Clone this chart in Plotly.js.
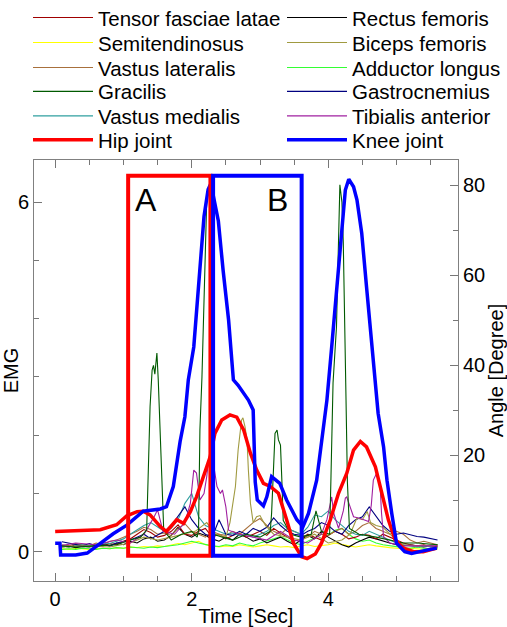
<!DOCTYPE html>
<html><head><meta charset="utf-8">
<script src="https://cdn.plot.ly/plotly-3.0.1.min.js"></script>
<style>html,body{margin:0;padding:0;background:#fff}#chart{width:507px;height:627px}</style>
</head><body><div id="chart"></div>
<script>
// ---------- data ----------
const tGrid = [0.1,0.2,0.3,0.4,0.5,0.6,0.7,0.8,0.9,1.0,
  1.1,1.2,1.3,1.4,1.5,1.6,1.7,1.8,1.9,2.0,
  2.1,2.2,2.3,2.4,2.5,2.6,2.7,2.8,2.9,3.0,
  3.1,3.2,3.3,3.4,3.5,3.6,3.7,3.8,3.9,4.0,
  4.1,4.2,4.3,4.4,4.5,4.6,4.7,4.8,4.9,5.0,
  5.1,5.2,5.3,5.4,5.5,5.6];

const tensorEMG = [0.10,0.08,0.12,0.10,0.09,0.12,0.10,0.14,0.12,0.18,
  0.22,0.30,0.38,0.33,0.25,0.28,0.35,0.46,0.30,0.28,
  0.35,0.40,0.25,0.30,0.22,0.28,0.32,0.25,0.30,0.35,
  0.28,0.40,0.32,0.25,0.18,0.22,0.30,0.25,0.20,0.28,
  0.35,0.30,0.22,0.25,0.30,0.28,0.22,0.30,0.25,0.20,
  0.15,0.12,0.10,0.12,0.08,0.10];
const rectusEMG = [0.08,0.10,0.07,0.09,0.08,0.10,0.12,0.10,0.15,0.12,
  0.18,0.15,0.22,0.25,0.18,0.20,0.28,0.42,0.30,0.25,
  0.32,0.28,0.22,0.18,0.25,0.20,0.30,0.25,0.18,0.22,
  0.15,0.20,0.25,0.18,0.12,0.20,0.28,0.22,0.35,0.25,
  0.18,0.12,0.08,0.15,0.20,0.25,0.22,0.18,0.15,0.12,
  0.10,0.12,0.10,0.08,0.10,0.08];
const semitendEMG = [0.05,0.04,0.06,0.05,0.04,0.05,0.06,0.05,0.07,0.06,
  0.08,0.07,0.09,0.08,0.10,0.09,0.12,0.14,0.12,0.15,
  0.18,0.12,0.10,0.08,0.10,0.09,0.12,0.10,0.08,0.10,
  0.12,0.10,0.08,0.09,0.07,0.10,0.12,0.09,0.10,0.12,
  0.15,0.12,0.10,0.08,0.10,0.12,0.10,0.08,0.07,0.06,
  0.05,0.06,0.05,0.04,0.05,0.05];
const vlatEMG = [0.12,0.10,0.14,0.12,0.10,0.15,0.12,0.18,0.20,0.25,
  0.30,0.35,0.42,0.38,0.30,0.32,0.28,0.40,0.48,0.35,
  0.30,0.25,0.35,0.30,0.28,0.35,0.30,0.40,0.50,0.57,
  0.45,0.35,0.30,0.40,0.35,0.30,0.25,0.35,0.30,0.28,
  0.35,0.40,0.30,0.35,0.45,0.50,0.40,0.35,0.30,0.35,
  0.30,0.20,0.15,0.18,0.15,0.12];
const adductorEMG = [0.04,0.05,0.04,0.06,0.05,0.04,0.06,0.05,0.07,0.06,
  0.08,0.07,0.06,0.08,0.07,0.09,0.10,0.12,0.15,0.18,
  0.15,0.12,0.10,0.09,0.12,0.10,0.15,0.12,0.10,0.15,
  0.18,0.22,0.26,0.20,0.15,0.12,0.18,0.25,0.30,0.28,
  0.37,0.40,0.30,0.22,0.18,0.20,0.15,0.12,0.10,0.08,
  0.07,0.06,0.08,0.06,0.05,0.06];
const gastroEMG = [0.17,0.15,0.12,0.10,0.14,0.10,0.12,0.10,0.15,0.18,
  0.20,0.25,0.30,0.22,0.28,0.35,0.45,0.60,0.77,0.55,
  0.40,0.30,0.25,0.55,0.30,0.28,0.35,0.30,0.40,0.35,
  0.42,0.58,0.45,0.35,0.30,0.28,0.35,0.40,0.50,0.45,
  0.35,0.30,0.45,0.55,0.60,0.77,0.60,0.45,0.35,0.30,
  0.32,0.29,0.26,0.25,0.23,0.20];
const vmedEMG = [0.10,0.08,0.10,0.12,0.10,0.12,0.15,0.14,0.18,0.22,
  0.30,0.37,0.45,0.50,0.42,0.35,0.40,0.55,0.83,1.00,
  0.60,0.45,0.40,0.35,0.30,0.32,0.28,0.30,0.25,0.30,
  0.35,0.45,0.50,0.40,0.35,0.30,0.42,0.63,0.60,0.70,
  0.55,0.45,0.35,0.30,0.28,0.35,0.30,0.25,0.20,0.15,
  0.12,0.10,0.08,0.10,0.08,0.07];

const gracilisT = [0.07,0.3,0.6,0.9,1.1,1.25,1.34,1.37,1.39,1.42,1.44,1.46,1.49,1.51,1.54,1.56,1.59,
  1.7,1.85,2.0,2.08,2.10,2.12,2.15,2.17,2.19,2.22,2.24,2.27,2.28,2.30,2.32,
  2.45,2.6,2.8,3.0,3.15,3.17,3.22,3.25,3.27,3.30,3.32,3.34,3.45,3.6,3.75,3.82,3.9,
  4.02,4.04,4.07,4.12,4.15,4.17,4.20,4.22,4.26,4.28,4.31,4.45,4.7,4.9,5.1,5.3,5.6];
const gracilisEMG = [0.1,0.08,0.1,0.12,0.2,0.25,0.37,1.52,2.49,3.12,3.2,3.05,3.41,2.95,2.09,1.23,0.37,
  0.2,0.3,0.35,0.25,0.37,2.09,3.0,3.85,5.0,6.04,6.21,6.19,4.8,2.0,0.3,
  0.25,0.2,0.3,0.25,0.35,0.66,2.03,2.09,1.92,1.83,1.23,0.54,0.3,0.25,0.3,0.7,0.35,
  0.3,1.3,2.9,3.86,5.35,6.3,6.0,5.3,2.6,1.2,0.4,0.3,0.25,0.2,0.15,0.15,0.12];

const bicepsT = [0.07,0.4,0.8,1.1,1.3,1.5,1.7,1.9,2.05,2.22,
  2.35,2.5,2.56,2.64,2.68,2.73,2.75,2.78,2.81,2.83,
  2.86,2.90,2.95,3.0,3.08,3.2,3.4,3.6,3.8,4.0,
  4.2,4.32,4.42,4.5,4.57,4.62,4.7,4.8,4.95,5.1,5.3,5.6];
const bicepsEMG = [0.08,0.1,0.08,0.15,0.25,0.2,0.25,0.3,0.35,0.5,
  0.3,0.25,0.5,1.12,1.75,2.26,2.3,2.15,1.92,1.4,
  0.83,0.5,0.6,0.62,0.45,0.3,0.25,0.2,0.3,0.15,
  0.2,0.3,0.58,0.55,0.69,0.5,0.45,0.42,0.25,0.12,0.1,0.12];

const tibialisT = [0.07,0.3,0.6,0.9,1.1,1.3,1.45,1.5,1.58,1.75,
  1.9,1.98,2.03,2.07,2.12,2.18,2.22,2.25,2.27,2.32,
  2.37,2.42,2.45,2.5,2.54,2.7,2.9,3.1,3.3,3.5,
  3.7,3.9,3.98,4.03,4.05,4.08,4.15,4.22,4.25,4.27,
  4.32,4.37,4.47,4.59,4.63,4.66,4.71,4.76,4.78,4.81,4.9,5.1,5.3,5.6];
const tibialisEMG = [0.1,0.15,0.12,0.2,0.15,0.3,0.6,0.72,0.35,0.3,
  0.5,0.83,1.4,1.35,0.89,1.0,1.29,1.6,1.69,1.5,
  1.12,1.0,1.06,0.77,0.37,0.3,0.25,0.2,0.35,0.2,
  0.15,0.3,0.55,0.86,0.94,0.66,0.4,0.7,0.92,0.94,
  0.77,0.6,0.57,0.52,0.8,1.23,1.35,1.12,0.66,0.26,0.15,0.1,0.1,0.1];

const hipT = [0,0.3,0.66,0.9,1.05,1.2,1.29,1.39,1.54,1.63,1.78,1.88,1.98,2.07,2.17,2.27,2.34,2.44,2.56,2.66,
  2.76,2.86,2.95,3.05,3.15,3.27,3.39,3.49,3.61,3.69,3.81,3.90,4.03,4.15,4.27,4.37,4.47,4.56,4.69,4.78,
  4.88,4.98,5.10,5.25,5.39,5.59];
const hipAngle = [3.0,3.1,3.4,4.5,6.5,7.4,7.5,6.7,4.1,3.0,5.6,4.8,7.4,10.7,15.2,19.6,24.8,27.8,28.9,28.4,
  25.6,20.4,16.7,13.7,13.0,11.5,5.6,0.4,-2.6,-3.0,-2.0,0.4,5.6,11.5,15.9,21.1,23.0,21.8,17.4,11.5,
  5.6,1.1,-0.7,-1.5,-1.5,-0.7];

const kneeT = [0,0.07,0.08,0.3,0.47,0.66,0.85,1.05,1.29,1.54,1.63,1.73,1.83,1.90,1.95,2.03,2.12,2.18,2.24,2.27,
  2.29,2.39,2.46,2.54,2.61,2.68,2.83,2.90,2.93,2.96,3.05,3.10,3.17,3.29,3.39,3.54,3.63,3.71,3.83,3.90,
  3.98,4.05,4.12,4.20,4.25,4.30,4.37,4.42,4.49,4.56,4.64,4.73,4.81,4.86,4.93,5.00,5.12,5.22,5.39,5.59];
const kneeAngle = [0.4,0.4,-2.2,-2.2,-1.8,0.4,2.5,4.4,7.5,8.0,8.5,13,23,28.5,36.7,44,61,73,79,80,
  79.6,72,61,50,36.7,35.5,32.2,30,14,10,8.7,10.7,15.2,13.7,10,5.6,4.1,7,14.4,23.3,
  32.2,44,56,70.7,78.9,81.3,79.6,76.7,69.3,57.4,44,29.3,21.8,14.4,7,0.4,-1.5,-1.9,-1.3,-0.7];

// boxes A and B (time extent, EMG extent)
const boxA = [1.069, 2.274];
const boxB = [2.313, 3.61];
const boxEMG = [-0.07, 6.455];
const boxLabels = ['A', 'B'];
const boxLabelPos = [[1.325, 6.04], [3.26, 6.04]];

const xTickVals = [0, 2, 4];
const emgTickVals = [0, 6];
const angleTickVals = [0, 20, 40, 60, 80];

// ---------- drawing ----------
const FONT = 'Arial, "Liberation Sans", sans-serif';
const defs = [
  // name, x, y, color, width, axis, legend row, legend col
  ['Semitendinosus', tGrid, semitendEMG, '#ffff00', 1.1, 'y', 1, 0],
  ['Adductor longus', tGrid, adductorEMG, '#33ff33', 1.1, 'y', 2, 1],
  ['Rectus femoris', tGrid, rectusEMG, '#000000', 1.1, 'y', 0, 1],
  ['Tensor fasciae latae', tGrid, tensorEMG, '#a00000', 1.1, 'y', 0, 0],
  ['Vastus lateralis', tGrid, vlatEMG, '#a8703c', 1.1, 'y', 2, 0],
  ['Vastus medialis', tGrid, vmedEMG, '#2f9f9f', 1.1, 'y', 4, 0],
  ['Gastrocnemius', tGrid, gastroEMG, '#000080', 1.1, 'y', 3, 1],
  ['Biceps femoris', bicepsT, bicepsEMG, '#a09a40', 1.1, 'y', 1, 1],
  ['Tibialis anterior', tibialisT, tibialisEMG, '#a020a0', 1.1, 'y', 4, 1],
  ['Gracilis', gracilisT, gracilisEMG, '#005a00', 1.1, 'y', 3, 0],
  ['Hip joint', hipT, hipAngle, '#ff0000', 3.5, 'y2', 5, 0],
  ['Knee joint', kneeT, kneeAngle, '#0000ff', 3.5, 'y2', 5, 1]
];

const plotL = 34, plotR = 458, plotT = 160, plotB = 581;
const rowCenters = [17.7, 42.7, 67.7, 91.5, 116, 140];
const colX = [28, 282];

const traces = [];
const layout = {
  width: 507, height: 627,
  margin: {l: plotL, r: 507 - plotR, t: plotT, b: 627 - plotB, autoexpand: false},
  paper_bgcolor: '#fff', plot_bgcolor: '#fff',
  font: {family: FONT, size: 20, color: '#000'},
  xaxis: {
    range: [-0.31, 5.9], tickvals: xTickVals, ticks: 'inside', ticklen: 8, tickcolor: '#777',
    showline: true, linecolor: '#808080', linewidth: 1, mirror: 'ticks',
    minor: {tickmode: 'linear', tick0: 0, dtick: 0.5, ticks: 'inside', ticklen: 5, tickcolor: '#777'},
    showgrid: false, zeroline: false, automargin: false,
    tickfont: {family: FONT, size: 20, color: '#000'},
    title: {text: 'Time [Sec]', font: {family: FONT, size: 20, color: '#000'}, standoff: 0}
  },
  yaxis: {
    range: [-0.503, 6.726], tickvals: emgTickVals, ticks: 'inside', ticklen: 8, tickcolor: '#777',
    showline: true, linecolor: '#808080', linewidth: 1,
    minor: {tickmode: 'linear', tick0: 0, dtick: 1, ticks: 'inside', ticklen: 5, tickcolor: '#777'},
    showgrid: false, zeroline: false, automargin: false,
    tickfont: {family: FONT, size: 20, color: '#000'},
    title: {text: 'EMG', font: {family: FONT, size: 20, color: '#000'}, standoff: 0}
  },
  yaxis2: {
    range: [-8, 85.56], tickvals: angleTickVals, ticks: 'inside', ticklen: 8, tickcolor: '#777',
    overlaying: 'y', side: 'right',
    showline: true, linecolor: '#808080', linewidth: 1,
    minor: {tickmode: 'linear', tick0: 0, dtick: 10, ticks: 'inside', ticklen: 5, tickcolor: '#777'},
    showgrid: false, zeroline: false, automargin: false,
    tickfont: {family: FONT, size: 20, color: '#000'},
    title: {text: 'Angle [Degree]', font: {family: FONT, size: 20, color: '#000'}, standoff: 0}
  },
  shapes: [
    {type: 'rect', xref: 'x', yref: 'y', x0: boxA[0], x1: boxA[1], y0: boxEMG[0], y1: boxEMG[1],
     line: {color: '#ff0000', width: 4}, layer: 'above'},
    {type: 'rect', xref: 'x', yref: 'y', x0: boxB[0], x1: boxB[1], y0: boxEMG[0], y1: boxEMG[1],
     line: {color: '#0000ff', width: 4}, layer: 'above'}
  ],
  annotations: boxLabels.map((s, i) => ({
    text: s, x: boxLabelPos[i][0], y: boxLabelPos[i][1], xref: 'x', yref: 'y',
    showarrow: false, font: {family: FONT, size: 32, color: '#000'}
  }))
};

defs.forEach((d, i) => {
  const key = i === 0 ? 'legend' : 'legend' + (i + 1);
  traces.push({
    type: 'scatter', mode: 'lines', name: d[0], x: d[1], y: d[2], yaxis: d[5],
    line: {color: d[3], width: d[4]}, legend: key, showlegend: true, hoverinfo: 'skip'
  });
  layout[key] = {
    x: (colX[d[7]] - plotL) / (plotR - plotL),
    y: (plotB - rowCenters[d[6]]) / (plotB - plotT),
    xanchor: 'left', yanchor: 'middle', bgcolor: 'rgba(0,0,0,0)', borderwidth: 0,
    itemwidth: 60, font: {family: FONT, size: 20.5, color: '#000'}
  };
});

Plotly.newPlot('chart', traces, layout, {staticPlot: true, displayModeBar: false});
</script></body></html>
